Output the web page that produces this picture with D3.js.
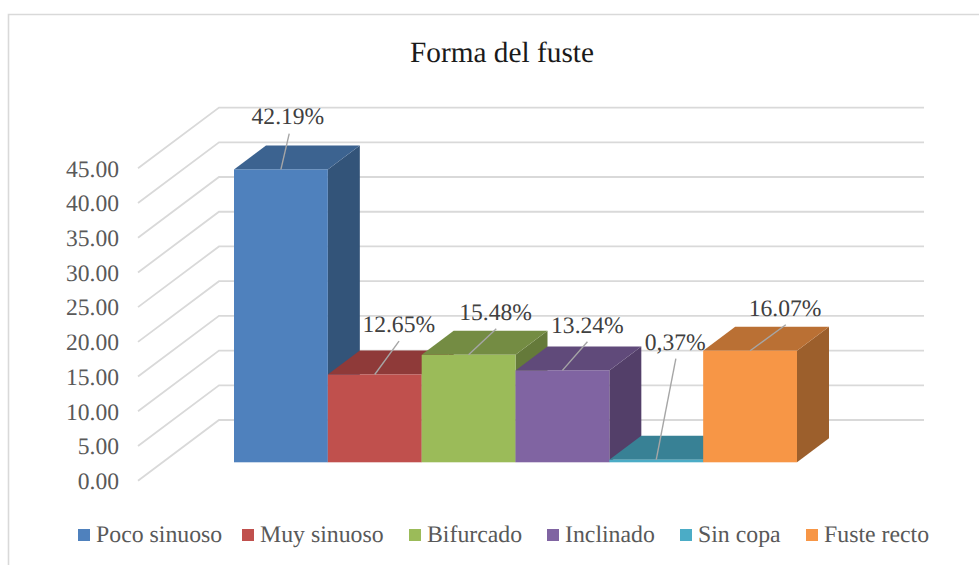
<!DOCTYPE html>
<html><head><meta charset="utf-8">
<script src="https://cdnjs.cloudflare.com/ajax/libs/d3/7.8.5/d3.min.js"></script>
<style>
html,body{margin:0;padding:0;background:#fff}
svg{display:block}
text{font-family:"Liberation Serif",serif;text-rendering:geometricPrecision}
</style></head><body>
<svg id="c" width="979" height="565"></svg>
<script>
const titleText = "Forma del fuste";
const categories = ["Poco sinuoso","Muy sinuoso","Bifurcado","Inclinado","Sin copa","Fuste recto"];
const values = [42.19,12.65,15.48,13.24,0.37,16.07];
const valueLabels = ["42.19%","12.65%","15.48%","13.24%","0,37%","16.07%"];
const yTicks = [0,5,10,15,20,25,30,35,40,45];
const faceColors = ["#4F81BD","#C0504D","#9BBB59","#8064A2","#4BACC6","#F79646"];
const topColors  = ["#3C6390","#8F3A39","#748C43","#604A7A","#388195","#BA7034"];
const sideColors = ["#335479","#7A3230","#657A3A","#533F69","#2F6F80","#9C5F2C"];

// Layout of the pseudo-3D box (not data)
const plot = {left:138, wallDx:81, wallDy:60.7, front0:480.7, front45:168.3, right:924};
const barPlane = {left:234, right:797, base:462.3, dx:32, dy:24};
// Label/leader offsets from each bar's top-centre, in pixels
const labelDx = [7,24,27,25,19,35], labelDy = [-45,-42,-34.5,-37.5,-110,-34.5];
const leaderDx = [8.3,24.3,27.7,25,19.6,35.7], leaderDy = [-35.7,-33.3,-26,-28.6,-101,-26];
const legendX = [78,242,409,547,680,806];

const svg = d3.select("#c");
const y = d3.scaleLinear().domain([0,45]).range([plot.front0,plot.front45]);
const x = d3.scaleBand().domain(categories).range([barPlane.left,barPlane.right]).padding(0);
const barY = v => barPlane.base - (y(0)-y(v));

// frame
svg.append("path").attr("d",`M8.5,565V14.5H979`).attr("fill","none").attr("stroke","#D9D9D9").attr("stroke-width",1.6);

// title
svg.append("text").attr("x",502).attr("y",62).attr("text-anchor","middle")
  .attr("font-size",29.3).attr("fill","#1a1a1a").text(titleText);

// gridlines: wall floor diagonal + back wall
const grid = svg.append("g").attr("fill","none").attr("stroke","#D9D9D9").attr("stroke-width",1.8);
grid.selectAll("path").data(yTicks).join("path")
  .attr("d",t=>d3.line()([[plot.left,y(t)],[plot.left+plot.wallDx,y(t)-plot.wallDy],[plot.right,y(t)-plot.wallDy]]));

// y axis
const axis = svg.append("g").attr("transform","translate(119,0)")
  .call(d3.axisLeft(y).tickValues(yTicks).tickFormat(d3.format(".2f")).tickSize(0).tickPadding(0));
axis.select(".domain").remove();
axis.selectAll("text").attr("font-family",'"Liberation Serif",serif').attr("font-size",23.6).attr("fill","#595959").attr("dy","0.33em");

// bars
const bars = svg.append("g").selectAll("g").data(categories).join("g");
bars.append("path").attr("fill",(d,i)=>sideColors[i]).attr("d",(d,i)=>{
  const r=x(d)+x.bandwidth(), t=barY(values[i]), b=barPlane.base, dx=barPlane.dx, dy=barPlane.dy;
  return `M${r},${t}L${r+dx},${t-dy}L${r+dx},${b-dy}L${r},${b}Z`;
});
bars.append("path").attr("fill",(d,i)=>topColors[i]).attr("d",(d,i)=>{
  const l=x(d), r=l+x.bandwidth(), t=barY(values[i]), dx=barPlane.dx, dy=barPlane.dy;
  return `M${l},${t}L${l+dx},${t-dy}L${r+dx},${t-dy}L${r},${t}Z`;
});
bars.append("rect").attr("fill",(d,i)=>faceColors[i])
  .attr("x",d=>x(d)).attr("width",x.bandwidth())
  .attr("y",(d,i)=>barY(values[i])).attr("height",(d,i)=>barPlane.base-barY(values[i]));

// leaders and value labels
const cx = d => x(d)+x.bandwidth()/2;
svg.append("g").selectAll("line").data(categories).join("line")
  .attr("x1",cx).attr("y1",(d,i)=>barY(values[i]))
  .attr("x2",(d,i)=>cx(d)+leaderDx[i]).attr("y2",(d,i)=>barY(values[i])+leaderDy[i])
  .attr("stroke","#A6A6A6").attr("stroke-width",1.4);
svg.append("g").selectAll("text").data(categories).join("text")
  .attr("x",(d,i)=>cx(d)+labelDx[i]).attr("y",(d,i)=>barY(values[i])+labelDy[i])
  .attr("text-anchor","middle").attr("font-size",23.6).attr("fill","#404040")
  .text((d,i)=>valueLabels[i]);

// legend
const leg = svg.append("g");
categories.forEach((d,i)=>{
  leg.append("rect").attr("x",legendX[i]).attr("y",529).attr("width",12).attr("height",12).attr("fill",faceColors[i]);
  leg.append("text").attr("x",legendX[i]+18).attr("y",542).attr("font-size",23.8).attr("fill","#595959").text(d);
});
</script>
</body></html>
